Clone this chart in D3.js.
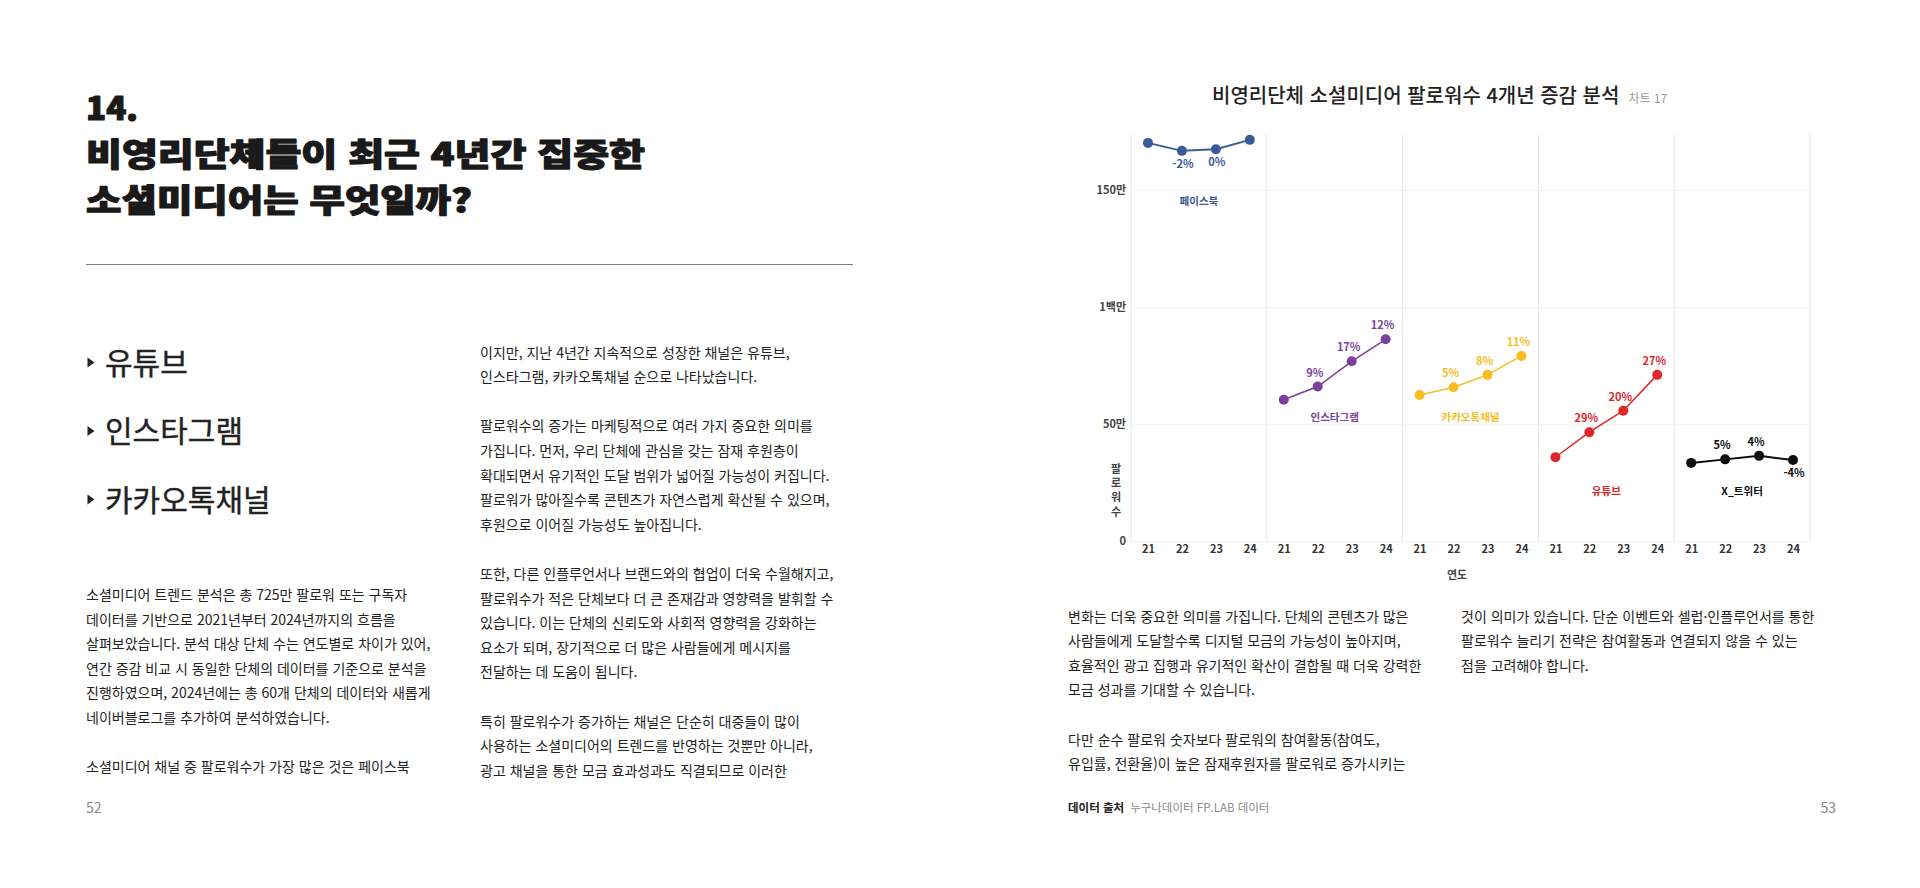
<!DOCTYPE html>
<html lang="ko">
<head>
<meta charset="utf-8">
<title>비영리단체 소셜미디어 팔로워수 4개년 증감 분석</title>
<script src="https://cdn.jsdelivr.net/npm/d3@7"></script>
<style>
  html, body { margin: 0; padding: 0; background: #fff; }
  svg { display: block; font-family: "Noto Sans CJK KR", "Noto Sans", sans-serif; }
</style>
</head>
<body>
<script>
// ---- chart data ----
var channels = ['페이스북', '인스타그램', '카카오톡채널', '유튜브', 'X_트위터'];
var years = ['21', '22', '23', '24'];
var facebook  = [1702000, 1668000, 1675000, 1715000];
var instagram = [605000, 661000, 769000, 863000];
var kakao     = [625000, 658000, 711000, 792000];
var youtube   = [359000, 466000, 558000, 711000];
var twitter   = [335000, 350000, 365000, 347000];
// growth labels shown next to the points
var facebookPct  = [null, '-2%', '0%', null];
var instagramPct = [null, '9%', '17%', '12%'];
var kakaoPct     = [null, '5%', '8%', '11%'];
var youtubePct   = [null, '29%', '20%', '27%'];
var twitterPct   = [null, '5%', '4%', '-4%'];
// where each channel name sits (in follower units)
var nameValues = [1455000, 530000, 530000, 217000, 217000];
var channelColors = ['#3b5a9a', '#7b3f9e', '#f5bd1f', '#e0262a', '#0d0d0d'];
var yTickValues = [0, 500000, 1000000, 1500000];
var yTickLabels = ['0', '50만', '1백만', '150만'];
var yMax = 1740000;

// ---- page text ----
var headLines = ['14.', '비영리단체들이 최근 4년간 집중한', '소셜미디어는 무엇일까?'];
var bullets = ['유튜브', '인스타그램', '카카오톡채널'];
var col1 = [
  '소셜미디어 트렌드 분석은 총 725만 팔로워 또는 구독자',
  '데이터를 기반으로 2021년부터 2024년까지의 흐름을',
  '살펴보았습니다. 분석 대상 단체 수는 연도별로 차이가 있어,',
  '연간 증감 비교 시 동일한 단체의 데이터를 기준으로 분석을',
  '진행하였으며, 2024년에는 총 60개 단체의 데이터와 새롭게',
  '네이버블로그를 추가하여 분석하였습니다.',
  '',
  '소셜미디어 채널 중 팔로워수가 가장 많은 것은 페이스북'
];
var col2 = [
  '이지만, 지난 4년간 지속적으로 성장한 채널은 유튜브,',
  '인스타그램, 카카오톡채널 순으로 나타났습니다.',
  '',
  '팔로워수의 증가는 마케팅적으로 여러 가지 중요한 의미를',
  '가집니다. 먼저, 우리 단체에 관심을 갖는 잠재 후원층이',
  '확대되면서 유기적인 도달 범위가 넓어질 가능성이 커집니다.',
  '팔로워가 많아질수록 콘텐츠가 자연스럽게 확산될 수 있으며,',
  '후원으로 이어질 가능성도 높아집니다.',
  '',
  '또한, 다른 인플루언서나 브랜드와의 협업이 더욱 수월해지고,',
  '팔로워수가 적은 단체보다 더 큰 존재감과 영향력을 발휘할 수',
  '있습니다. 이는 단체의 신뢰도와 사회적 영향력을 강화하는',
  '요소가 되며, 장기적으로 더 많은 사람들에게 메시지를',
  '전달하는 데 도움이 됩니다.',
  '',
  '특히 팔로워수가 증가하는 채널은 단순히 대중들이 많이',
  '사용하는 소셜미디어의 트렌드를 반영하는 것뿐만 아니라,',
  '광고 채널을 통한 모금 효과성과도 직결되므로 이러한'
];
var col3 = [
  '변화는 더욱 중요한 의미를 가집니다. 단체의 콘텐츠가 많은',
  '사람들에게 도달할수록 디지털 모금의 가능성이 높아지며,',
  '효율적인 광고 집행과 유기적인 확산이 결합될 때 더욱 강력한',
  '모금 성과를 기대할 수 있습니다.',
  '',
  '다만 순수 팔로워 숫자보다 팔로워의 참여활동(참여도,',
  '유입률, 전환율)이 높은 잠재후원자를 팔로워로 증가시키는'
];
var col4 = [
  '것이 의미가 있습니다. 단순 이벤트와 셀럽·인플루언서를 통한',
  '팔로워수 늘리기 전략은 참여활동과 연결되지 않을 수 있는',
  '점을 고려해야 합니다.'
];

var W = 1920, H = 888;
var svg = d3.select('body').append('svg')
  .attr('width', W)
  .attr('height', H);

//==== left page ====
var headBase = [120, 166.2, 212.4];
var headWidth = [52, 559, 386];
svg.selectAll('.head')
  .data(headLines)
  .enter()
  .append('text')
  .attr('class', 'head')
  .attr('x', 86)
  .attr('y', (d, i) => headBase[i])
  .attr('textLength', (d, i) => headWidth[i])
  .attr('lengthAdjust', 'spacingAndGlyphs')
  .attr('font-size', 31.7)
  .attr('font-weight', 900)
  .attr('fill', '#1a1a1a')
  .attr('stroke', '#1a1a1a')
  .attr('stroke-width', 1.2)
  .attr('stroke-linejoin', 'round')
  .text(d => d);

svg.append('line')
  .attr('x1', 86).attr('x2', 853)
  .attr('y1', 264.5).attr('y2', 264.5)
  .attr('stroke', '#7a7a7a')
  .attr('stroke-width', 1);

var bulletCenter = [362.5, 431, 499.5];
var bl = svg.selectAll('.bullet')
  .data(bullets)
  .enter()
  .append('g')
  .attr('class', 'bullet')
  .attr('transform', (d, i) => 'translate(0,' + bulletCenter[i] + ')');
bl.append('path')
  .attr('d', 'M87.5,-5 L94.5,0 L87.5,5 Z')
  .attr('fill', '#222');
bl.append('text')
  .attr('x', 105)
  .attr('y', 11)
  .attr('font-size', 30)
  .attr('fill', '#222')
  .attr('stroke', '#222')
  .attr('stroke-width', 0.4)
  .text(d => d);

// paragraph columns
function column(lines, x, firstBase) {
  svg.append('g')
    .selectAll('text')
    .data(lines)
    .enter()
    .append('text')
    .attr('x', x)
    .attr('y', (d, i) => firstBase + i * 24.6)
    .attr('font-size', 14)
    .attr('fill', '#222')
    .text(d => d);
}
column(col1, 86, 600);
column(col2, 480, 357.5);
column(col3, 1068, 621.5);
column(col4, 1461, 621.5);

svg.append('text')
  .attr('x', 86).attr('y', 813)
  .attr('font-size', 14).attr('fill', '#8a8a8a')
  .text('52');
svg.append('text')
  .attr('x', 1836).attr('y', 813)
  .attr('text-anchor', 'end')
  .attr('font-size', 14).attr('fill', '#8a8a8a')
  .text('53');

var src = svg.append('text')
  .attr('x', 1068).attr('y', 812)
  .attr('font-size', 11.5);
src.append('tspan').attr('font-weight', 700).attr('fill', '#222').text('데이터 출처');
src.append('tspan').attr('dx', 6).attr('fill', '#8a8a8a').text('누구나데이터 FP.LAB 데이터');

//==== chart ====
var title = svg.append('text')
  .attr('x', 1212).attr('y', 103)
  .attr('font-size', 20)
  .attr('font-weight', 500)
  .attr('fill', '#222');
title.append('tspan').text('비영리단체 소셜미디어 팔로워수 4개년 증감 분석');
title.append('tspan').attr('dx', 9).attr('font-size', 12).attr('font-weight', 400)
  .attr('fill', '#999').text('차트 17');

var plotLeft = 1131, plotRight = 1810, plotTop = 134, plotBottom = 541.3;

var fx = d3.scaleBand()
  .domain(channels)
  .range([plotLeft, plotRight])
  .padding(0);
var x = d3.scalePoint()
  .domain(years)
  .range([0, fx.bandwidth()])
  .padding(0.5);
var y = d3.scaleLinear()
  .domain([0, yMax])
  .range([plotBottom, plotTop]);

// horizontal grid + y labels
var yAxis = svg.append('g')
  .attr('transform', 'translate(' + plotLeft + ',0)')
  .call(d3.axisLeft(y)
    .tickValues(yTickValues)
    .tickSize(-(plotRight - plotLeft))
    .tickPadding(5)
    .tickFormat((d, i) => yTickLabels[i]));
yAxis.select('.domain').remove();
yAxis.selectAll('line').attr('stroke', '#f1f1f1');
yAxis.selectAll('text')
  .attr('font-family', '"Noto Sans CJK KR", sans-serif')
  .attr('font-size', 11)
  .attr('font-weight', 600)
  .attr('fill', '#444');

// vertical panel separators
var seps = channels.map(c => fx(c)).concat([plotRight]);
svg.append('g')
  .selectAll('line')
  .data(seps)
  .enter()
  .append('line')
  .attr('x1', d => d).attr('x2', d => d)
  .attr('y1', plotTop).attr('y2', plotBottom)
  .attr('stroke', '#e6e6e6')
  .attr('stroke-width', 1);

// vertical y title, one syllable per row
svg.append('g')
  .selectAll('text')
  .data('팔로워수'.split(''))
  .enter()
  .append('text')
  .attr('x', 1116)
  .attr('y', (d, i) => 473 + i * 14.2)
  .attr('text-anchor', 'middle')
  .attr('font-size', 11)
  .attr('font-weight', 600)
  .attr('fill', '#444')
  .text(d => d);

svg.append('text')
  .attr('x', 1457).attr('y', 579)
  .attr('text-anchor', 'middle')
  .attr('font-size', 11)
  .attr('font-weight', 600)
  .attr('fill', '#444')
  .text('연도');

var series = [facebook, instagram, kakao, youtube, twitter];
var pcts = [facebookPct, instagramPct, kakaoPct, youtubePct, twitterPct];
var line = d3.line()
  .x((d, i) => x(years[i]))
  .y(d => y(d));

channels.forEach((c, k) => {
  var g = svg.append('g').attr('transform', 'translate(' + fx(c) + ',0)');
  var color = channelColors[k];
  var heavy = (k === 0 || k === 4);

  // year ticks
  var xa = g.append('g')
    .attr('transform', 'translate(0,' + plotBottom + ')')
    .call(d3.axisBottom(x).tickSize(0).tickPadding(4));
  xa.select('.domain').remove();
  xa.selectAll('text')
    .attr('font-family', '"Noto Sans CJK KR", sans-serif')
    .attr('font-size', 11)
    .attr('font-weight', 600)
    .attr('fill', '#333');

  g.append('path')
    .datum(series[k])
    .attr('d', line)
    .attr('fill', 'none')
    .attr('stroke', color)
    .attr('stroke-width', heavy ? 2 : 1.5);

  g.selectAll('circle')
    .data(series[k])
    .enter()
    .append('circle')
    .attr('cx', (d, i) => x(years[i]))
    .attr('cy', d => y(d))
    .attr('r', 5)
    .attr('fill', color);

  // growth labels: below the point when not growing
  g.selectAll('.pct')
    .data(series[k].map((v, i) => ({ v: v, i: i, t: pcts[k][i] })).filter(d => d.t))
    .enter()
    .append('text')
    .attr('class', 'pct')
    .attr('x', d => x(years[d.i]) + (d.t[0] === '-' || d.t === '0%' ? 1 : -3))
    .attr('y', d => y(d.v) + ((d.t[0] === '-' || d.t === '0%') ? 17 : -10))
    .attr('text-anchor', 'middle')
    .attr('font-size', 11)
    .attr('font-weight', 700)
    .attr('fill', color)
    .text(d => d.t);

  g.append('text')
    .attr('x', fx.bandwidth() / 2)
    .attr('y', y(nameValues[k]) + 4)
    .attr('text-anchor', 'middle')
    .attr('font-size', 10.5)
    .attr('font-weight', 700)
    .attr('fill', color)
    .text(c);
});
</script>
</body>
</html>
